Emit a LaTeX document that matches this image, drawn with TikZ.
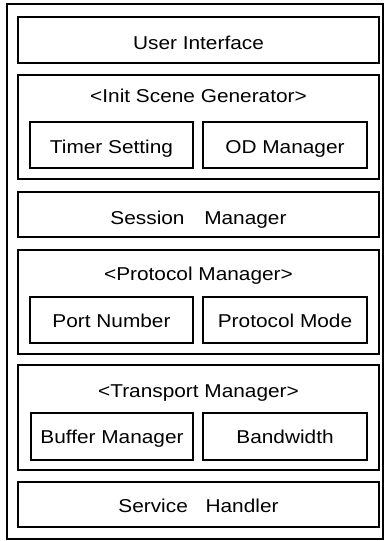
\documentclass[tikz,border=0pt]{standalone}
\usepackage{fontspec}
\setmainfont{Liberation Sans}[FakeStretch=1.12]
\usetikzlibrary{fit}

\begin{document}
\begin{tikzpicture}[x=1pt, y=-1pt,
  box/.style={draw=black, line width=1.6pt, inner sep=0pt, rectangle},
  lbl/.style={anchor=base, inner sep=0pt, text=black,
    font=\fontsize{18.6}{20}\selectfont}]
  % page frame
  \useasboundingbox (0,0) rectangle (384,541);

  % outer frame
  \node[box, fit={(7,4) (383,539)}] (outer) {};

  % user interface
  \node[box, fit={(18,17) (379,63)}] (ui) {};
  \node[lbl] (uit) at (198.5,49) {User Interface};

  % init scene generator
  \node[box, fit={(18,75) (379,179)}] (isg) {};
  \node[lbl] (isgt) at (198.5,102) {<Init Scene Generator>};
  \node[box, fit={(30,122) (193,168)}] (ts) {};
  \node[lbl] (tst) at (111.5,153) {Timer Setting};
  \node[box, fit={(203,122) (367,168)}] (od) {};
  \node[lbl] (odt) at (285,153) {OD Manager};

  % session manager
  \node[box, fit={(18,192) (379,237)}] (sm) {};
  \node[lbl] (smt) at (198.5,224) {Session\hspace{14pt} Manager};

  % protocol manager
  \node[box, fit={(18,250) (379,354)}] (pm) {};
  \node[lbl] (pmt) at (198.5,280) {<Protocol Manager>};
  \node[box, fit={(30,297) (193,343)}] (pn) {};
  \node[lbl] (pnt) at (111.5,327) {Port Number};
  \node[box, fit={(203,297) (367,343)}] (pmode) {};
  \node[lbl] (pmodet) at (285,327) {Protocol Mode};

  % transport manager
  \node[box, fit={(18,365) (379,470)}] (tm) {};
  \node[lbl] (tmt) at (198.5,397) {<Transport Manager>};
  \node[box, fit={(31,413) (193,460)}] (bm) {};
  \node[lbl] (bmt) at (112,443) {Buffer Manager};
  \node[box, fit={(203,413) (367,460)}] (bw) {};
  \node[lbl] (bwt) at (285,443) {Bandwidth};

  % service handler
  \node[box, fit={(18,482) (379,527)}] (sh) {};
  \node[lbl] (sht) at (198.5,512) {Service\hspace{12pt} Handler};
\end{tikzpicture}
\end{document}
